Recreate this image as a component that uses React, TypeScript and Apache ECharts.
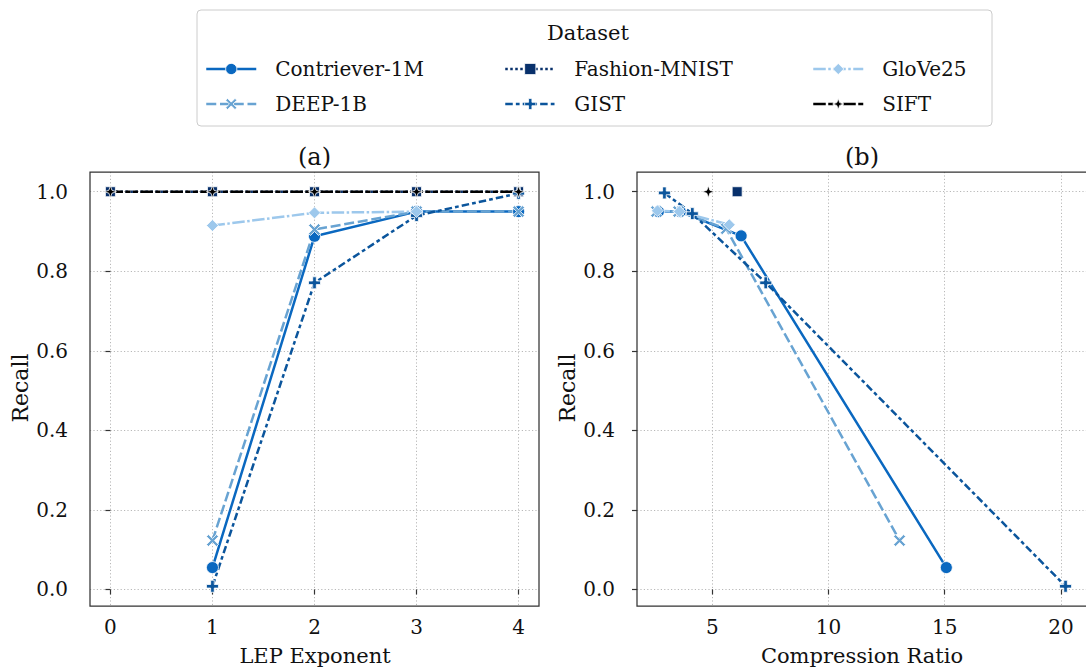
import React, { useEffect, useRef } from "react";
import * as echarts from "echarts";

// ---------- data ----------
const datasetNames = ["Contriever-1M", "DEEP-1B", "Fashion-MNIST", "GIST", "GloVe25", "SIFT"];

// Panel (a): LEP exponent -> recall
const contrieverLep = [1, 2, 3, 4];
const contrieverRecallA = [0.055, 0.888, 0.95, 0.95];
const deepLep = [1, 2, 3, 4];
const deepRecallA = [0.123, 0.905, 0.95, 0.95];
const fashionLep = [0, 1, 2, 3, 4];
const fashionRecallA = [1.0, 1.0, 1.0, 1.0, 1.0];
const gistLep = [1, 2, 3, 4];
const gistRecallA = [0.008, 0.771, 0.94, 0.996];
const gloveLep = [1, 2, 3];
const gloveRecallA = [0.915, 0.947, 0.95];
const siftLep = [0, 1, 2, 3, 4];
const siftRecallA = [1.0, 1.0, 1.0, 1.0, 1.0];

// Panel (b): compression ratio -> recall
const contrieverRatio = [15.07, 6.24, 3.62, 2.68];
const contrieverRecallB = [0.055, 0.889, 0.95, 0.95];
const deepRatio = [13.06, 5.6, 3.55, 2.6];
const deepRecallB = [0.123, 0.907, 0.95, 0.95];
const fashionRatio = [6.07];
const fashionRecallB = [1.0];
const gistRatio = [20.2, 7.3, 4.14, 2.94];
const gistRecallB = [0.008, 0.771, 0.945, 0.997];
const gloveRatio = [5.73, 3.59, 2.64];
const gloveRecallB = [0.917, 0.95, 0.952];
const siftRatio = [4.83];
const siftRecallB = [1.0];

const xTicksA = [0, 1, 2, 3, 4];
const xTicksB = [5, 10, 15, 20];
const yTicks = [0, 0.2, 0.4, 0.6, 0.8, 1.0];

// ---------- styles ----------
const FONT = "DejaVu Serif";
const TXT = "#111";
const colors: Record<string, string> = {
  "Contriever-1M": "#0a68c0",
  "DEEP-1B": "#68a3d2",
  "Fashion-MNIST": "#08306b",
  GIST: "#0b559c",
  GloVe25: "#9dc8ec",
  SIFT: "#000000",
};
const LW = 2.5;
const dashes: Record<string, any> = {
  "Contriever-1M": "solid",
  "DEEP-1B": [10, 3.75],
  "Fashion-MNIST": [2.5, 2.5],
  GIST: [7.5, 3.1, 3.75, 3.1],
  GloVe25: [12.5, 2.5, 2.5, 2.5],
  SIFT: [12.5, 2.5, 5, 2.5, 5, 2.5],
};
const symbols: Record<string, string> = {
  "Contriever-1M": "circle",
  "DEEP-1B": "path://M-3,-2L-2,-3L0,-1L2,-3L3,-2L1,0L3,2L2,3L0,1L-2,3L-3,2L-1,0Z",
  "Fashion-MNIST": "rect",
  GIST: "path://M-0.9,-3H0.9V-0.9H3V0.9H0.9V3H-0.9V0.9H-3V-0.9H-0.9Z",
  GloVe25: "diamond",
  SIFT: "path://M0,-3L0.75,-0.75L3,0L0.75,0.75L0,3L-0.75,0.75L-3,0L-0.75,-0.75Z",
};
const symbolSizes: Record<string, number> = {
  "Contriever-1M": 12,
  "DEEP-1B": 12,
  "Fashion-MNIST": 10,
  GIST: 12,
  GloVe25: 12,
  SIFT: 12,
};

const pairs = (xs: number[], ys: number[]) => xs.map((x, i) => [x, ys[i]]);

const panelA: Record<string, number[][]> = {
  "Contriever-1M": pairs(contrieverLep, contrieverRecallA),
  "DEEP-1B": pairs(deepLep, deepRecallA),
  "Fashion-MNIST": pairs(fashionLep, fashionRecallA),
  GIST: pairs(gistLep, gistRecallA),
  GloVe25: pairs(gloveLep, gloveRecallA),
  SIFT: pairs(siftLep, siftRecallA),
};
const panelB: Record<string, number[][]> = {
  "Contriever-1M": pairs(contrieverRatio, contrieverRecallB),
  "DEEP-1B": pairs(deepRatio, deepRecallB),
  "Fashion-MNIST": pairs(fashionRatio, fashionRecallB),
  GIST: pairs(gistRatio, gistRecallB),
  GloVe25: pairs(gloveRatio, gloveRecallB),
  SIFT: pairs(siftRatio, siftRecallB),
};

const GA = { left: 90, top: 172, width: 449, height: 434 };
const GB = { left: 637, top: 172, width: 450, height: 434 };

function makeSeries(name: string, data: number[][], idx: number) {
  return {
    type: "line",
    name,
    xAxisIndex: idx,
    yAxisIndex: idx,
    data: [...data].sort((a, b) => a[0] - b[0]),
    symbol: symbols[name],
    symbolSize: symbolSizes[name],
    showSymbol: true,
    showAllSymbol: true,
    lineStyle: { color: colors[name], width: LW, type: dashes[name] },
    itemStyle: { color: colors[name], borderColor: "#ffffff", borderWidth: 0.8 },
    emphasis: { disabled: true },
    z: 2,
  };
}

function xAxis(idx: number, min: number, max: number, split: number, ticks: number[]) {
  return {
    type: "value",
    gridIndex: idx,
    min,
    max,
    splitNumber: split,
    axisLine: { show: false },
    axisTick: { show: true, length: 5, inside: false, customValues: ticks, lineStyle: { color: "#333", width: 1.2 } },
    axisLabel: {
      customValues: ticks,
      margin: 11,
      fontFamily: FONT,
      fontSize: 20,
      color: TXT,
    },
    splitLine: { show: true, lineStyle: { color: "#b8b8b8", width: 1, type: [1.2, 2.2] } },
  };
}

function yAxis(idx: number) {
  return {
    type: "value",
    gridIndex: idx,
    min: -0.0416,
    max: 1.0496,
    splitNumber: 5,
    axisLine: { show: false },
    axisTick: { show: true, length: 5, inside: false, customValues: yTicks, lineStyle: { color: "#333", width: 1.2 } },
    axisLabel: {
      customValues: yTicks,
      margin: 22,
      fontFamily: FONT,
      fontSize: 20,
      color: TXT,
      formatter: (v: number) => v.toFixed(1),
    },
    splitLine: { show: true, lineStyle: { color: "#b8b8b8", width: 1, type: [1.2, 2.2] } },
  };
}

function legendCol(names: string[], left: number) {
  return {
    data: names,
    left,
    top: 58,
    orient: "vertical",
    itemWidth: 50,
    itemHeight: 14,
    itemGap: 13,
    selectedMode: false,
    padding: 0,
    lineStyle: { width: 2.5 },
    itemStyle: { borderColor: "#fff", borderWidth: 0.8 },
    textStyle: { fontFamily: FONT, fontSize: 20, color: TXT, padding: [0, 0, 0, 14], lineHeight: 22 },
  };
}

export default function App() {
  const ref = useRef<HTMLDivElement>(null);
  useEffect(() => {
    if (!ref.current) return;
    const chart = echarts.init(ref.current, undefined, { renderer: "svg" });
    const series: any[] = [];
    datasetNames.forEach((n) => series.push(makeSeries(n, panelA[n], 0)));
    datasetNames.forEach((n) => series.push(makeSeries(n, panelB[n], 1)));
    chart.setOption({
      animation: false,
      backgroundColor: "#ffffff",
      grid: [
        { ...GA, containLabel: false },
        { ...GB, containLabel: false },
      ],
      xAxis: [xAxis(0, -0.2, 4.2, 5, xTicksA), xAxis(1, 1.76, 21.08, 4, xTicksB)],
      yAxis: [yAxis(0), yAxis(1)],
      legend: [
        legendCol([datasetNames[0], datasetNames[1]], 205),
        legendCol([datasetNames[2], datasetNames[3]], 504),
        legendCol([datasetNames[4], datasetNames[5]], 812),
      ],
      series,
      graphic: [
        {
          type: "rect",
          shape: { x: 197, y: 10, width: 795, height: 116, r: 4 },
          style: { fill: "none", stroke: "#cccccc", lineWidth: 1 },
          silent: true,
        },
        {
          type: "text",
          x: 588,
          y: 33,
          style: { text: "Dataset", font: `21px '${FONT}'`, fill: TXT, textAlign: "center", textVerticalAlign: "middle" },
          silent: true,
        },
        {
          type: "rect",
          shape: { x: GA.left, y: GA.top, width: GA.width, height: GA.height },
          style: { fill: "none", stroke: "#333", lineWidth: 1.25 },
          silent: true,
          z: 100,
        },
        {
          type: "rect",
          shape: { x: GB.left, y: GB.top, width: GB.width, height: GB.height },
          style: { fill: "none", stroke: "#333", lineWidth: 1.25 },
          silent: true,
          z: 100,
        },
        {
          type: "text",
          x: GA.left + GA.width / 2,
          y: 157,
          style: { text: "(a)", font: `24px '${FONT}'`, fill: TXT, textAlign: "center", textVerticalAlign: "middle" },
          silent: true,
        },
        {
          type: "text",
          x: 862,
          y: 157,
          style: { text: "(b)", font: `24px '${FONT}'`, fill: TXT, textAlign: "center", textVerticalAlign: "middle" },
          silent: true,
        },
        {
          type: "text",
          x: 315,
          y: 656,
          style: { text: "LEP Exponent", font: `21px '${FONT}'`, fill: TXT, textAlign: "center", textVerticalAlign: "middle" },
          silent: true,
        },
        {
          type: "text",
          x: 862,
          y: 656,
          style: { text: "Compression Ratio", font: `21px '${FONT}'`, fill: TXT, textAlign: "center", textVerticalAlign: "middle" },
          silent: true,
        },
        {
          type: "text",
          x: 20,
          y: 388,
          rotation: Math.PI / 2,
          style: { text: "Recall", font: `22px '${FONT}'`, fill: TXT, textAlign: "center", textVerticalAlign: "middle" },
          silent: true,
        },
        {
          type: "text",
          x: 567,
          y: 388,
          rotation: Math.PI / 2,
          style: { text: "Recall", font: `22px '${FONT}'`, fill: TXT, textAlign: "center", textVerticalAlign: "middle" },
          silent: true,
        },
      ],
    });
    return () => chart.dispose();
  }, []);
  return (
    <div
      ref={ref}
      style={{ position: "fixed", left: 0, top: 0, width: 1086, height: 670, background: "#fff" }}
    />
  );
}
